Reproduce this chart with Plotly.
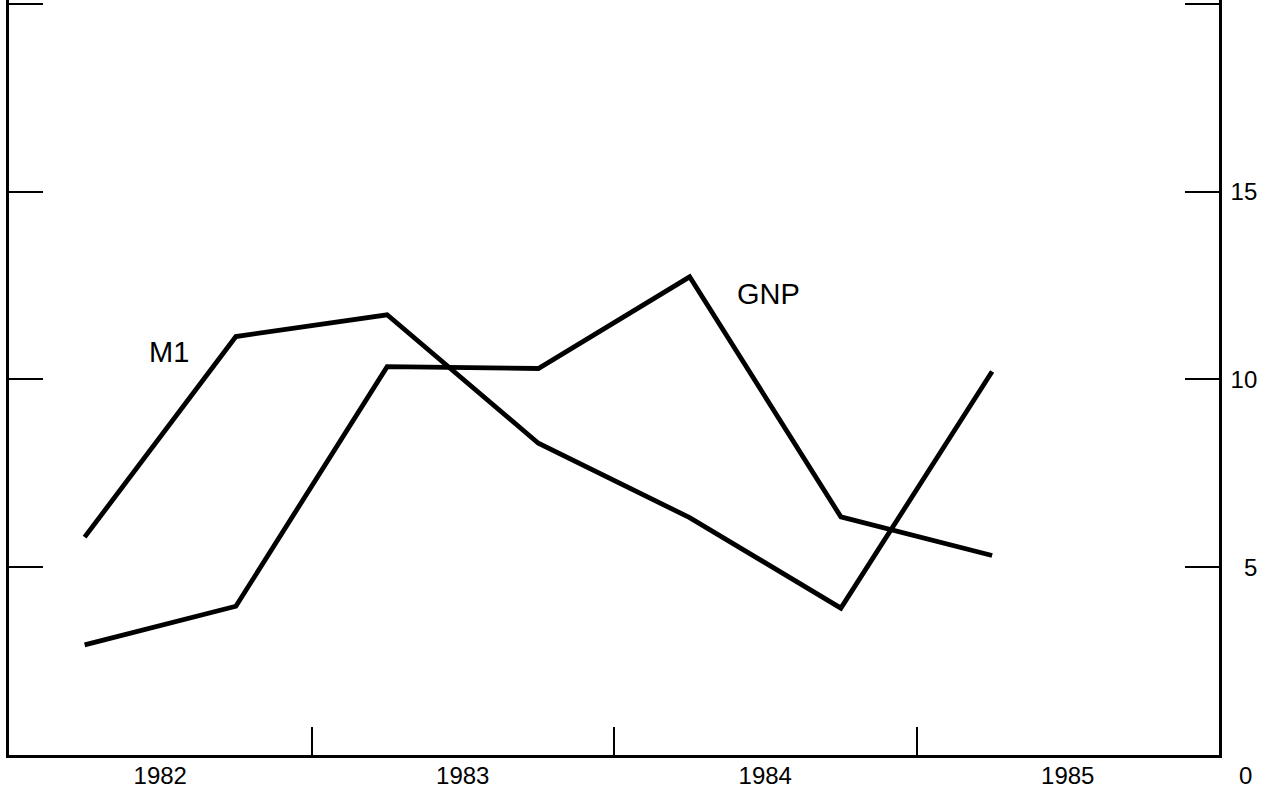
import plotly.graph_objects as go

# Data (semi-annual observations, percent)
periods = [1982.25, 1982.75, 1983.25, 1983.75, 1984.25, 1984.75, 1985.25]
m1_values = [5.8, 11.14, 11.72, 8.30, 6.32, 3.91, 10.21]
gnp_values = [2.93, 3.96, 10.34, 10.29, 12.73, 6.34, 5.31]

year_labels = ["1982", "1983", "1984", "1985"]
year_label_pos = [1982.5, 1983.5, 1984.5, 1985.5]
year_boundaries = [1983, 1984, 1985]
y_ticks = [5, 10, 15, 20]
y_tick_text = ["\u20075", "10", "15", ""]

FONT = "Liberation Sans, Arial, Helvetica, sans-serif"

fig = go.Figure()
fig.add_trace(go.Scatter(x=periods, y=m1_values, mode="lines", name="M1",
                         line=dict(color="black", width=4.8), showlegend=False))
fig.add_trace(go.Scatter(x=periods, y=gnp_values, mode="lines", name="GNP",
                         line=dict(color="black", width=4.8), showlegend=False))

fig.add_annotation(x=1982.53, y=10.72, text="M1", showarrow=False,
                   font=dict(family=FONT, size=29, color="black"))
fig.add_annotation(x=1984.51, y=12.28, text="GNP", showarrow=False,
                   font=dict(family=FONT, size=29, color="black"))
fig.add_annotation(x=1, xref="paper", y=0, yref="y", text="0", showarrow=False,
                   xanchor="right", xshift=35, yshift=-20,
                   font=dict(family=FONT, size=24, color="black"))

fig.update_layout(
    width=1269, height=790,
    margin=dict(l=9, r=50, t=0, b=35),
    paper_bgcolor="white", plot_bgcolor="white",
    font=dict(family=FONT, size=24, color="black"),
    xaxis=dict(range=[1982, 1986], showgrid=False, zeroline=False, automargin=False,
               showline=True, linecolor="black", linewidth=2.5, mirror=False,
               tickvals=year_label_pos, ticktext=year_labels, ticks="",
               tickfont=dict(size=24), ticklabelstandoff=-3,
               minor=dict(tickvals=year_boundaries, ticks="inside", ticklen=28,
                          tickwidth=1.5, tickcolor="black", showgrid=False)),
    yaxis=dict(range=[0, 20.1], side="right", showgrid=False, zeroline=False,
               automargin=False,
               showline=True, linecolor="black", linewidth=2.5, mirror="ticks",
               tickvals=y_ticks, ticktext=y_tick_text, ticks="inside", ticklen=34,
               tickwidth=2, tickcolor="black", tickfont=dict(size=24),
               ticklabelstandoff=4),
)

fig.write_html("out.html", config={"displayModeBar": False},
               post_script="document.body.style.margin='0px';")
